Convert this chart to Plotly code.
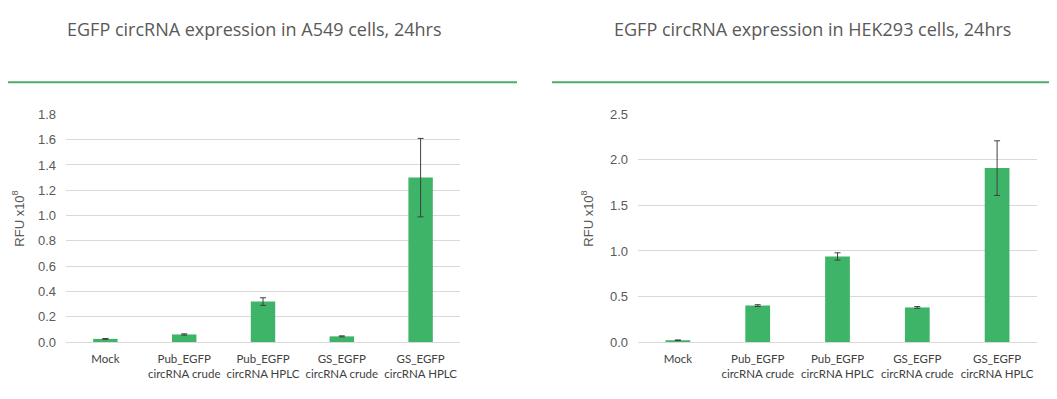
import plotly.graph_objects as go

categories = ["Mock", "Pub_EGFP<br>circRNA crude", "Pub_EGFP<br>circRNA HPLC",
              "GS_EGFP<br>circRNA crude", "GS_EGFP<br>circRNA HPLC"]
a549_values = [0.025, 0.06, 0.32, 0.045, 1.30]
a549_errors = [0.003, 0.005, 0.03, 0.004, 0.31]
hek_values = [0.02, 0.40, 0.94, 0.38, 1.91]
hek_errors = [0.003, 0.01, 0.04, 0.01, 0.30]
titles = ["EGFP circRNA expression in A549 cells, 24hrs",
          "EGFP circRNA expression in HEK293 cells, 24hrs"]
y_title = "RFU x10<sup>8</sup>"

# page has default 8px body margin: figure sized so the page is 1057x399
OFF = 8
W, H = 1057 - 2 * OFF, 399 - 2 * OFF
bar_color = "#3db468"
line_color = "#4cae6a"
text_color = "#595959"
grid_color = "#d9d9d9"


def px(x):
    return min(max((x - OFF) / W, 0), 1)


def py(y):
    # vertical placement compensated for the observed rendering offset
    yp = (y - 8.25) / 0.958
    return 1 - (yp - OFF) / H


fig = go.Figure()

fig.add_trace(go.Bar(
    x=categories, y=a549_values, marker_color=bar_color, marker_line_width=0,
    error_y=dict(type="data", array=a549_errors, color="#404040", thickness=1, width=3),
    xaxis="x", yaxis="y", showlegend=False))
fig.add_trace(go.Bar(
    x=categories, y=hek_values, marker_color=bar_color, marker_line_width=0,
    error_y=dict(type="data", array=hek_errors, color="#404040", thickness=1, width=3),
    xaxis="x2", yaxis="y2", showlegend=False))

ydom = [py(342), py(115)]
tickfont = dict(family="Liberation Sans, Arial", size=13, color=text_color)
xtickfont = dict(family="Lato, Open Sans", size=11.5, color="#404040")

common_x = dict(tickfont=xtickfont, showline=True, linecolor=grid_color, linewidth=1,
                ticks="", showgrid=False, tickangle=0, ticklabelstandoff=6)
common_y = dict(showgrid=True, gridcolor=grid_color, zeroline=False, tickfont=tickfont,
                ticks="", tickformat=".1f", ticklabelstandoff=9)

fig.update_layout(
    width=W, height=H,
    margin=dict(l=0, r=0, t=0, b=0),
    paper_bgcolor="white", plot_bgcolor="white",
    bargap=0.69,
    xaxis=dict(domain=[px(66), px(460)], anchor="y", **common_x),
    yaxis=dict(domain=ydom, anchor="x", range=[0, 1.8], dtick=0.2, **common_y),
    xaxis2=dict(domain=[px(638), px(1037)], anchor="y2", **common_x),
    yaxis2=dict(domain=ydom, anchor="x2", range=[0, 2.5], dtick=0.5, **common_y),
)

for cx, t in zip([254, 812], titles):
    fig.add_annotation(x=px(cx), y=py(30), xref="paper", yref="paper", text=t,
                       showarrow=False, xanchor="center", yanchor="middle",
                       font=dict(family="Open Sans, Noto Sans", size=18, color=text_color))

for cx in [18, 587]:
    fig.add_annotation(x=px(cx), y=py(219), xref="paper", yref="paper", text=y_title,
                       showarrow=False, textangle=-90, xanchor="center", yanchor="middle",
                       font=dict(family="Liberation Sans, Arial", size=13, color=text_color))

fig.add_shape(type="line", xref="paper", yref="paper", x0=px(0), x1=px(517),
              y0=py(83), y1=py(83), line=dict(color=line_color, width=2))
fig.add_shape(type="line", xref="paper", yref="paper", x0=px(552), x1=px(1057),
              y0=py(83), y1=py(83), line=dict(color=line_color, width=2))

fig.write_html("out.html", config={"displayModeBar": False})
